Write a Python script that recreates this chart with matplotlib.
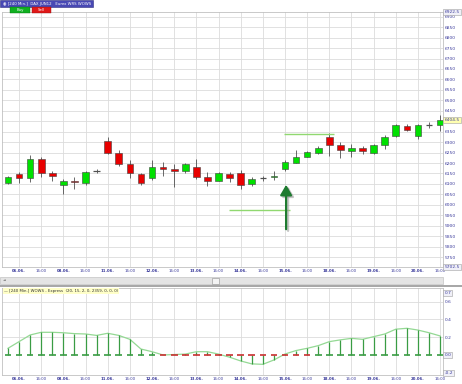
import matplotlib
matplotlib.use('Agg')
import matplotlib.pyplot as plt
from matplotlib.patches import Rectangle

# DAX 240-min bars, 06.06. - 20.06.
opens = [6104, 6148, 6130, 6220, 6150, 6096, 6116, 6105, 6163, 6306,
         6249, 6193, 6148, 6129, 6180, 6172, 6163, 6180, 6134, 6116,
         6148, 6150, 6100, 6124, 6132, 6172, 6201, 6230, 6250, 6324,
         6286, 6259, 6271, 6249, 6286, 6327, 6377, 6329, 6380, 6384]
highs = [6140, 6156, 6236, 6230, 6161, 6124, 6131, 6163, 6170, 6324,
         6260, 6214, 6150, 6214, 6204, 6193, 6201, 6220, 6156, 6156,
         6156, 6166, 6134, 6140, 6162, 6214, 6260, 6257, 6280, 6345,
         6300, 6289, 6280, 6292, 6332, 6388, 6385, 6388, 6398, 6428]
lows = [6100, 6102, 6111, 6134, 6115, 6052, 6076, 6096, 6150, 6245,
        6185, 6129, 6095, 6121, 6140, 6086, 6153, 6124, 6092, 6112,
        6111, 6076, 6089, 6115, 6120, 6161, 6198, 6228, 6245, 6233,
        6226, 6230, 6245, 6241, 6268, 6324, 6353, 6313, 6366, 6353]
closes = [6135, 6130, 6220, 6151, 6137, 6116, 6107, 6156, 6160, 6249,
          6194, 6150, 6105, 6182, 6169, 6163, 6196, 6134, 6116, 6150,
          6127, 6097, 6124, 6129, 6140, 6204, 6228, 6252, 6272, 6284,
          6260, 6270, 6257, 6284, 6326, 6380, 6358, 6380, 6380, 6404.5]

# WOWS - Express indicator
wows = [0.075, 0.15, 0.225, 0.255, 0.255, 0.25, 0.24, 0.236, 0.22, 0.244,
        0.22, 0.176, 0.067, 0.037, 0.0, 0.005, 0.01, 0.037, 0.037, 0.01,
        -0.025, -0.067, -0.1, -0.105, -0.056, 0.011, 0.05, 0.075, 0.105, 0.15,
        0.17, 0.187, 0.176, 0.206, 0.236, 0.29, 0.30, 0.28, 0.25, 0.214]
flat_bars = list(range(14, 28))  # zero line drawn red here

tick_bars = list(range(1, 40, 2))
tick_labels = ['06.06.', '16:00', '08.06.', '16:00', '11.06.', '16:00',
               '12.06.', '16:00', '13.06.', '16:00', '14.06.', '16:00',
               '15.06.', '16:00', '18.06.', '16:00', '19.06.', '16:00',
               '20.06.', '16:00']

# signal marks
signal_bar = 25.1
arrow_from, arrow_to = 5870, 6109
stop_level, stop_bars = 5975, (19.95, 25.45)
target_level, target_bars = 6339, (24.9, 29.4)

price_min, price_max = 5702.5, 6922.5
price_ticks = list(range(5750, 6901, 50))

W, H = 462, 384
LABEL_C = '#3c3c9c'
GRID_C = '#dcdcdc'

fig = plt.figure(figsize=(W / 100, H / 100), dpi=100)
fig.patch.set_facecolor('white')


def box(x0, y0, x1, y1, **kw):
    """Rectangle in pixel coords (top-left origin) on the figure."""
    r = Rectangle((x0 / W, 1 - y1 / H), (x1 - x0) / W, (y1 - y0) / H,
                  transform=fig.transFigure, **kw)
    fig.patches.append(r)
    return r


def style_axes(ax):
    for s in ax.spines.values():
        s.set_color('#c0c0c0')
        s.set_linewidth(0.6)
    ax.yaxis.tick_right()
    ax.tick_params(axis='both', length=0, colors=LABEL_C, labelsize=3.2, pad=1.5)
    ax.set_xticks(tick_bars)
    ax.set_xticklabels(tick_labels, fontsize=2.8)
    for lab in ax.get_xticklabels():
        if lab.get_text() != '16:00':
            lab.set_fontweight('bold')
    ax.grid(True, color=GRID_C, linewidth=0.6)
    ax.set_axisbelow(True)
    ax.set_xlim(-0.54, 39.26)


# ---- price panel ----
ax = fig.add_axes([2 / W, 1 - 267 / H, 441 / W, 255 / H])
style_axes(ax)
ax.set_ylim(price_min, price_max)
ax.set_yticks(price_ticks)
# the last-price marker takes the place of the 6400 label
ax.set_yticklabels(['' if p == 6400 else str(p) for p in price_ticks])

for i, (o, h, l, c) in enumerate(zip(opens, highs, lows, closes)):
    ax.vlines(i, l, h, color='#505050', linewidth=0.6, zorder=2)
    if abs(c - o) < 6:
        ax.hlines((o + c) / 2, i - 0.3, i + 0.3, color='#505050', linewidth=0.9, zorder=3)
        continue
    col = '#00e000' if c > o else '#e80000'
    ax.add_patch(Rectangle((i - 0.3, min(o, c)), 0.6, abs(c - o), facecolor=col,
                           edgecolor='#404040', linewidth=0.4, zorder=3))

ax.hlines(stop_level, *stop_bars, color='#90d870', linewidth=1.0, zorder=4)
ax.hlines(target_level, *target_bars, color='#90d870', linewidth=1.0, zorder=4)
ax.annotate('', xy=(signal_bar + 0.18, arrow_to - 8), xytext=(signal_bar + 0.18, arrow_from - 8),
            arrowprops=dict(arrowstyle='-|>,head_width=0.35,head_length=0.6', color='#a0a0a0',
                            lw=1.6, mutation_scale=10, alpha=0.6), zorder=4)
ax.annotate('', xy=(signal_bar, arrow_to), xytext=(signal_bar, arrow_from),
            arrowprops=dict(arrowstyle='-|>,head_width=0.35,head_length=0.6', color='#1e7b30',
                            lw=1.6, mutation_scale=10), zorder=5)

for val, txt, fc in [(price_max, '6922.5', '#f0f0f8'), (price_min, '5702.5', '#f0f0f8'),
                     (closes[-1], '6404.5', '#ffffb0')]:
    ax.text(1.003, val, txt, transform=ax.get_yaxis_transform(), fontsize=3.2,
            color=LABEL_C, va='center', ha='left', clip_on=False,
            bbox=dict(boxstyle='square,pad=0.25', facecolor=fc, edgecolor='#a0a0a0', linewidth=0.4))

# header and buttons
box(0, 0, 93, 7, facecolor='#4848b4', edgecolor='#303080', linewidth=0.4)
fig.text(3 / W, 1 - 3.6 / H, '\u25c9 [240 Min.]  DAX JUN12   Eurex WRS WOWS',
         fontsize=2.8, color='white', va='center')
box(10, 7.5, 30, 12.5, facecolor='#10b020', edgecolor='#087010', linewidth=0.3)
fig.text(20 / W, 1 - 10 / H, 'Buy', fontsize=2.8, color='white', va='center', ha='center')
box(32, 7.5, 51, 12.5, facecolor='#e01818', edgecolor='#901010', linewidth=0.3)
fig.text(41.5 / W, 1 - 10 / H, 'Sell', fontsize=2.8, color='white', va='center', ha='center')

# scroll bar / panel separator
box(0, 277, 443, 284, facecolor='#e4e4e4', edgecolor='#b8b8b8', linewidth=0.4)
box(212, 277.5, 219, 283.5, facecolor='#f4f4f4', edgecolor='#909090', linewidth=0.4)
fig.text(3 / W, 1 - 280.5 / H, '\u25c4', fontsize=2.5, color='#606060', va='center')
box(0, 284.5, 462, 286.5, facecolor='#a8a8a8', edgecolor='none')

# ---- indicator panel ----
ax2 = fig.add_axes([2 / W, 1 - 375 / H, 441 / W, 87 / H])
style_axes(ax2)
ax2.set_ylim(-0.225, 0.753)
ax2.set_yticks([0.6, 0.4, 0.2])
ax2.set_yticklabels(['0.6', '0.4', '0.2'])

xs = list(range(len(wows)))
ax2.vlines(xs, 0, wows, color='#3a9c44', linewidth=0.9, zorder=3)
for i in xs:
    col = '#c83030' if i in flat_bars else '#3a9c44'
    ax2.hlines(0, i - 0.3, i + 0.3, color=col, linewidth=1.2, zorder=4)
ax2.plot(xs, wows, color='#94d994', linewidth=0.9, zorder=2)

for val, txt, fc in [(0.7, '0.7', '#f0f0f8'), (0.0, '0.0', '#f0f0f8'), (-0.2, '-0.2', '#f0f0f8')]:
    ax2.text(1.003, val, txt, transform=ax2.get_yaxis_transform(), fontsize=3.2,
             color=LABEL_C, va='center', ha='left', clip_on=False,
             bbox=dict(boxstyle='square,pad=0.25', facecolor=fc, edgecolor='#a0a0a0', linewidth=0.4))

ax2.text(0.004, 0.965, '\u2014 [240 Min.] WOWS - Express  (20, 15, 2, 0, 2359, 0, 0, 0)',
         transform=ax2.transAxes, fontsize=2.8, color='#303030', va='center', ha='left',
         bbox=dict(boxstyle='square,pad=0.3', facecolor='#ffffc8', edgecolor='none'))

fig.savefig('out.png', dpi=100)
plt.close(fig)
